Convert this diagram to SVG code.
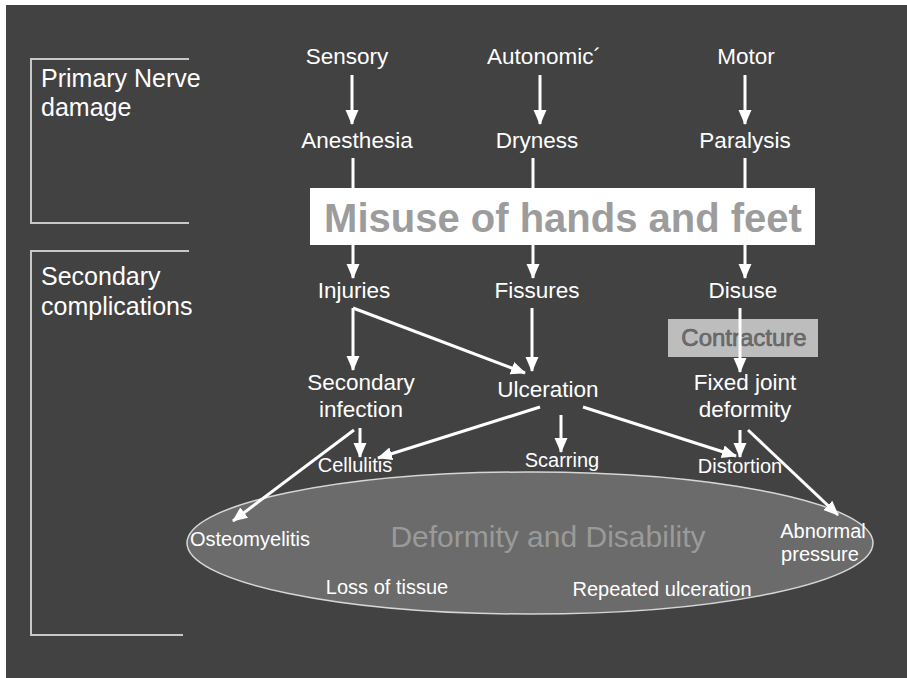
<svg xmlns="http://www.w3.org/2000/svg" width="907" height="678" viewBox="0 0 907 678">
<style>
.t{font-family:"Liberation Sans",Arial,sans-serif;fill:#ffffff;}
.c{text-anchor:middle;}
.m{font-size:22.5px;}
.s{font-size:20px;}
.br{fill:none;stroke:#c8c8c8;stroke-width:2;}
.ln{stroke:#ffffff;stroke-width:3;fill:none;}
.ar{stroke:#ffffff;stroke-width:3;fill:none;marker-end:url(#ah);}
</style>
<defs>
<marker id="ah" markerUnits="userSpaceOnUse" markerWidth="16" markerHeight="16" viewBox="0 0 16 16" refX="14" refY="8" orient="auto">
<path d="M0,1.5 L15,8 L0,14.5 Z" fill="#ffffff"/>
</marker>
</defs>
<rect x="0" y="0" width="907" height="678" fill="#ffffff"/>
<rect x="6" y="5" width="901" height="673" fill="#424242"/>

<g id="bracket-primary">
<path class="br" d="M189,59 L31,59 L31,223 L189,223"/>
<text class="t" x="41" y="87" font-size="25">Primary Nerve</text>
<text class="t" x="41" y="116" font-size="25">damage</text>
</g>
<g id="bracket-secondary">
<path class="br" d="M189,251 L31,251 L31,635 L183,635"/>
<text class="t" x="41" y="285" font-size="25">Secondary</text>
<text class="t" x="41" y="315" font-size="25">complications</text>
</g>

<g id="sensory"><text class="t c m" x="347" y="64">Sensory</text></g>
<g id="autonomic"><text class="t c m" x="544" y="64">Autonomic´</text></g>
<g id="motor"><text class="t c m" x="746" y="64">Motor</text></g>
<g id="anesthesia"><text class="t c m" x="357" y="148">Anesthesia</text></g>
<g id="dryness"><text class="t c m" x="537" y="148">Dryness</text></g>
<g id="paralysis"><text class="t c m" x="745" y="148">Paralysis</text></g>

<g id="misuse">
<rect x="310" y="188" width="505" height="57" fill="#ffffff"/>
<text class="c" x="563" y="232" font-family="Liberation Sans,Arial,sans-serif" font-weight="bold" font-size="40" fill="#9c9c9c">Misuse of hands and feet</text>
</g>

<g id="injuries"><text class="t c m" x="354" y="298">Injuries</text></g>
<g id="fissures"><text class="t c m" x="537" y="298">Fissures</text></g>
<g id="disuse"><text class="t c m" x="743" y="298">Disuse</text></g>

<g id="contracture">
<rect x="668" y="319" width="150" height="38" fill="#bdbdbd"/>
<text class="c" x="744" y="346" font-family="Liberation Sans,Arial,sans-serif" font-size="24" fill="#6e6e6e" stroke="#5a5a5a" stroke-width="0.6">Contracture</text>
</g>

<g id="secondary-infection">
<text class="t c m" x="361" y="390">Secondary</text>
<text class="t c m" x="361" y="417">infection</text>
</g>
<g id="ulceration"><text class="t c m" x="548" y="397">Ulceration</text></g>
<g id="fixed-joint">
<text class="t c m" x="745" y="390">Fixed joint</text>
<text class="t c m" x="745" y="417">deformity</text>
</g>

<g id="deformity">
<ellipse cx="530" cy="543" rx="343" ry="71" fill="#6b6b6b" stroke="#d6d6d6" stroke-width="1.5"/>
<text class="c" x="548" y="547" font-family="Liberation Sans,Arial,sans-serif" font-size="30" fill="#9a9a9a">Deformity and Disability</text>
</g>

<g id="cellulitis"><text class="t c s" x="355" y="472">Cellulitis</text></g>
<g id="scarring"><text class="t c s" x="562" y="467">Scarring</text></g>
<g id="distortion"><text class="t c s" x="740" y="473">Distortion</text></g>
<g id="osteomyelitis"><text class="t s" x="190" y="546">Osteomyelitis</text></g>
<g id="abnormal-pressure">
<text class="t c s" x="823" y="538">Abnormal</text>
<text class="t c s" x="820" y="561">pressure</text>
</g>
<g id="loss-of-tissue"><text class="t c s" x="387" y="594">Loss of tissue</text></g>
<g id="repeated-ulceration"><text class="t c s" x="662" y="596">Repeated ulceration</text></g>

<g id="connectors">
<line class="ar" x1="352" y1="75" x2="352" y2="124"/>
<line class="ar" x1="540" y1="75" x2="540" y2="124"/>
<line class="ar" x1="745" y1="75" x2="745" y2="124"/>
<line class="ln" x1="353" y1="158" x2="353" y2="188"/>
<line class="ln" x1="533" y1="158" x2="533" y2="188"/>
<line class="ln" x1="745" y1="158" x2="745" y2="188"/>
<line class="ar" x1="353" y1="245" x2="353" y2="278"/>
<line class="ar" x1="533" y1="245" x2="533" y2="278"/>
<line class="ar" x1="745" y1="245" x2="745" y2="278"/>
<line class="ar" x1="353" y1="308" x2="353" y2="370"/>
<line class="ar" x1="353" y1="308" x2="525" y2="373"/>
<line class="ar" x1="532" y1="308" x2="532" y2="371"/>
<line class="ar" x1="740" y1="308" x2="740" y2="372"/>
<line class="ar" x1="360" y1="428" x2="360" y2="457"/>
<line class="ar" x1="354" y1="430" x2="233" y2="521"/>
<line class="ar" x1="540" y1="407" x2="378" y2="458"/>
<line class="ar" x1="561" y1="415" x2="561" y2="452"/>
<line class="ar" x1="583" y1="407" x2="736" y2="456"/>
<line class="ar" x1="740" y1="430" x2="740" y2="457"/>
<line class="ar" x1="748" y1="430" x2="838" y2="515"/>
</g>
</svg>
